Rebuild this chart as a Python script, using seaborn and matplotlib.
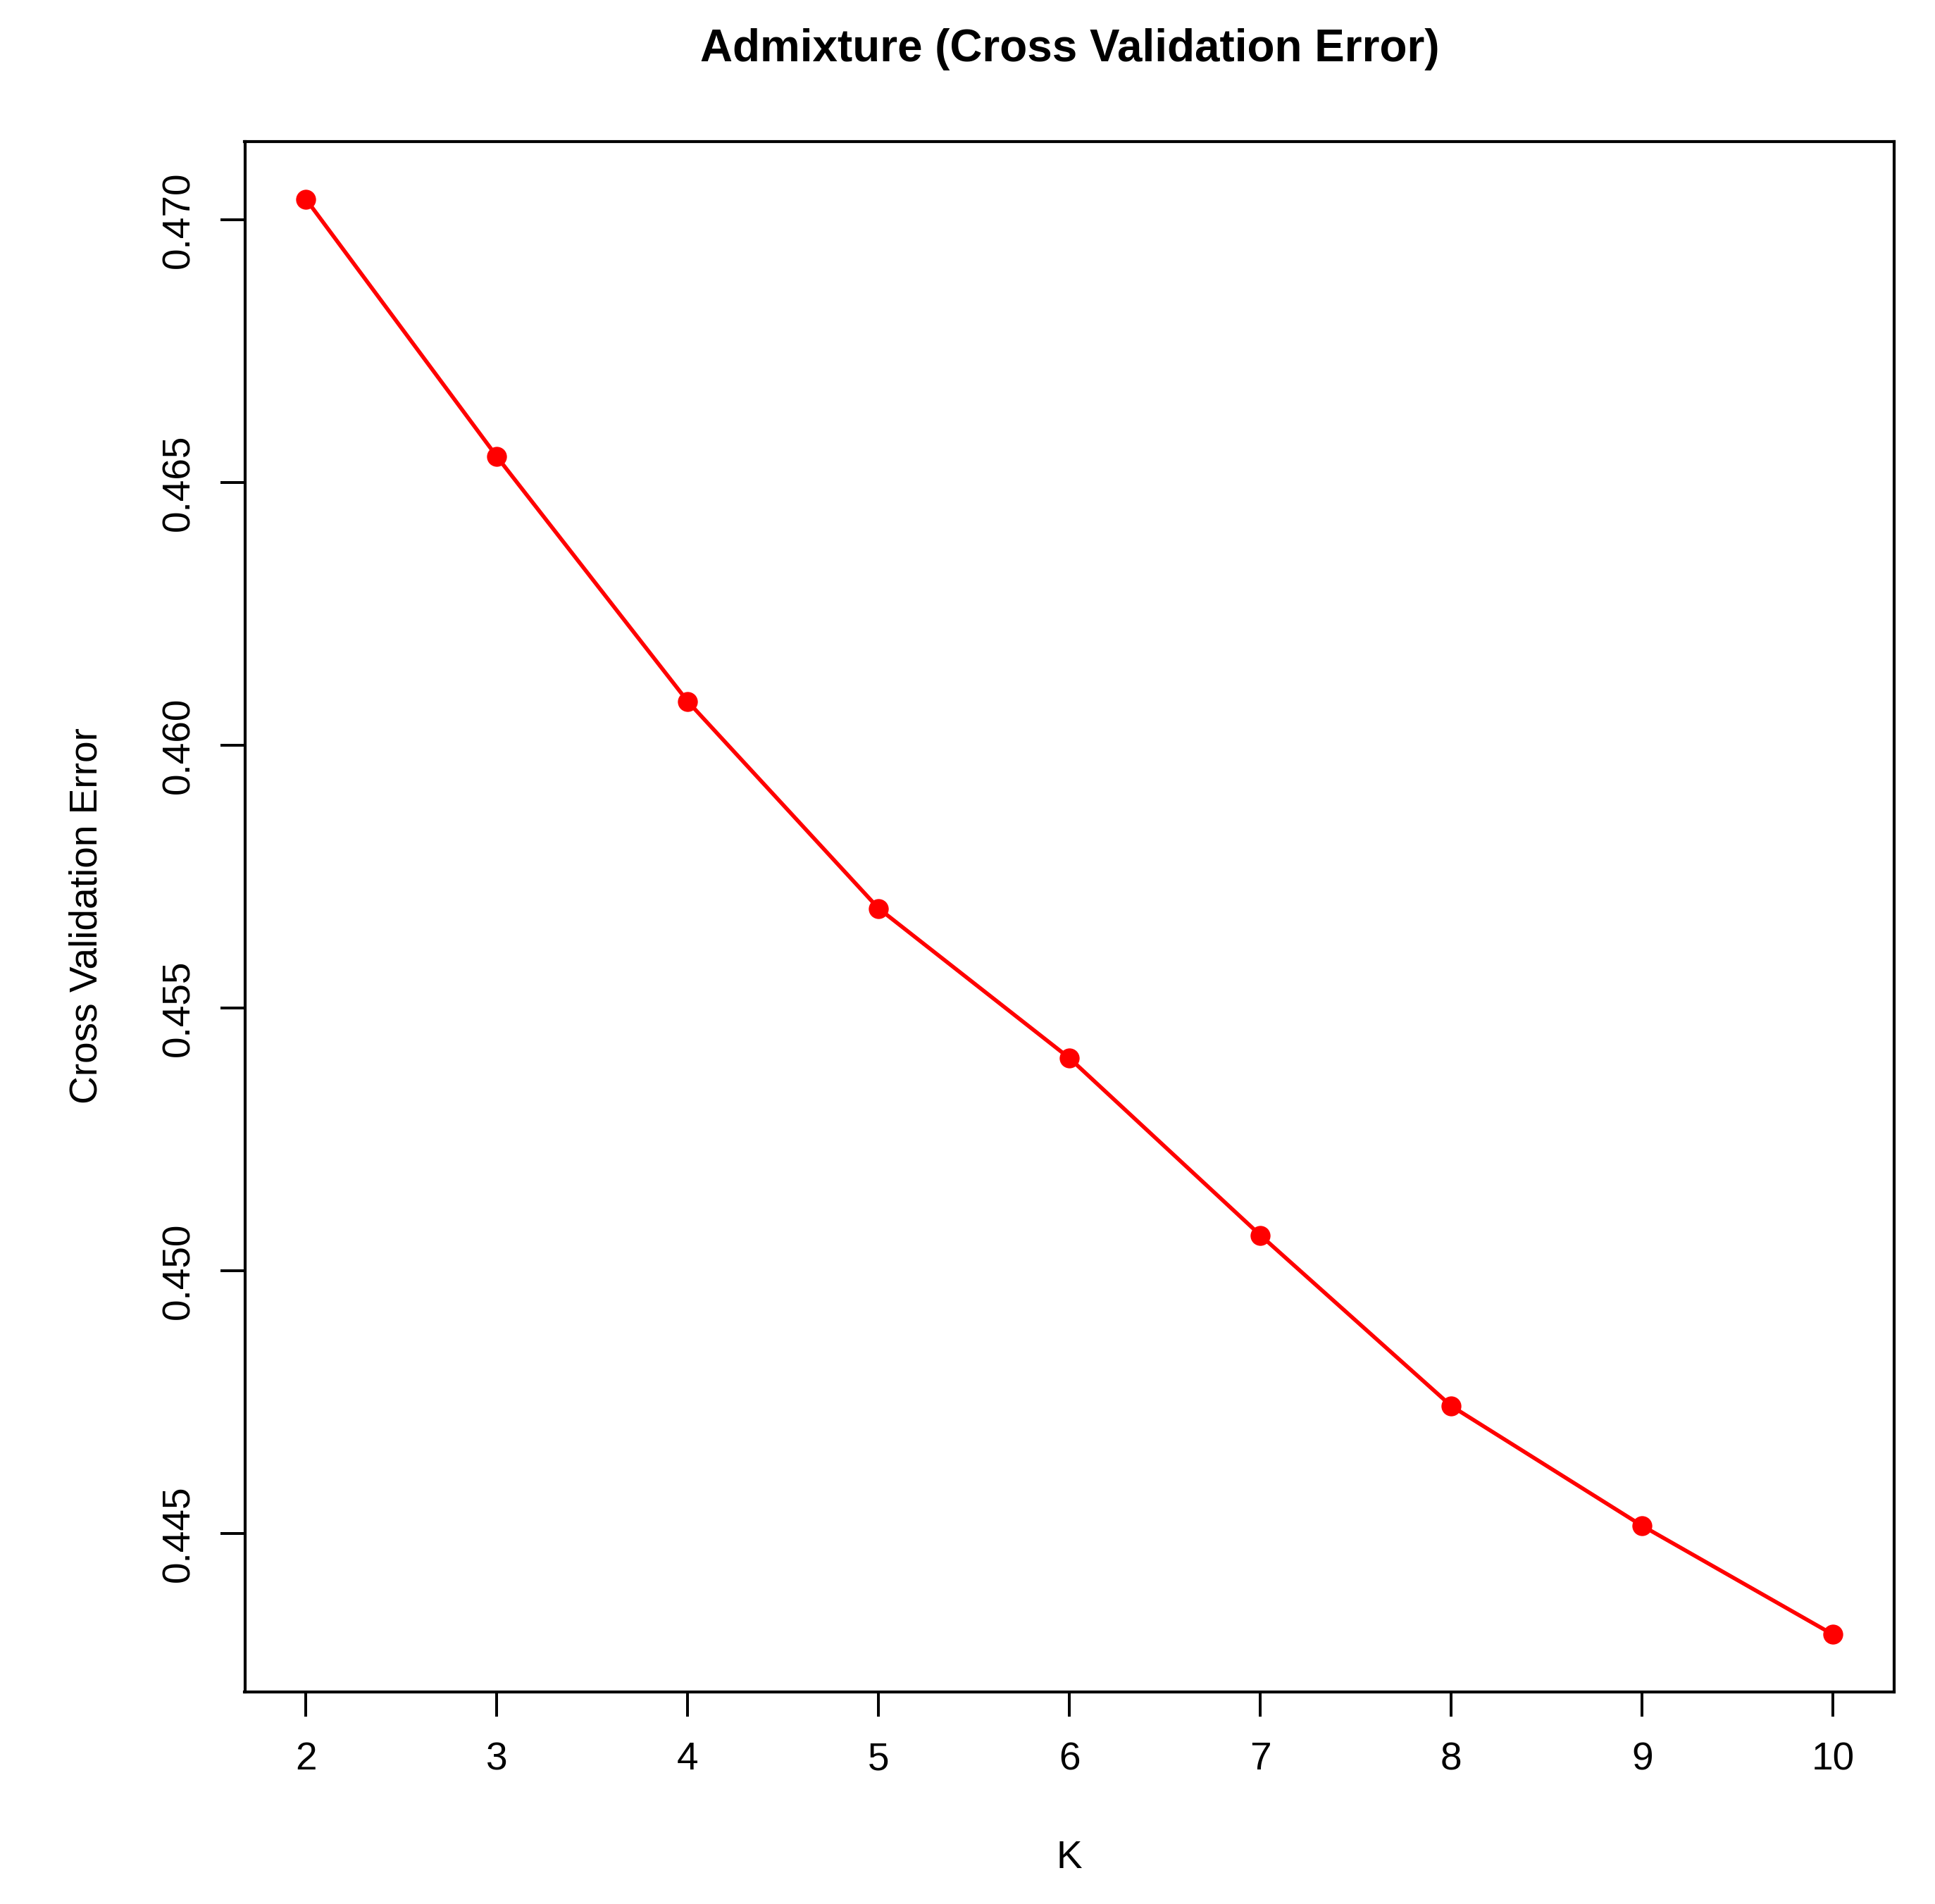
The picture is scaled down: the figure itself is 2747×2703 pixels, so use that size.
import matplotlib
matplotlib.use("Agg")
import matplotlib.pyplot as plt
import seaborn as sns
import pandas as pd

K = [2, 3, 4, 5, 6, 7, 8, 9, 10]
cv_error = [0.47040, 0.46550, 0.46084, 0.45690, 0.45405, 0.45068, 0.44743, 0.44515, 0.44308]
x_ticks = [2, 3, 4, 5, 6, 7, 8, 9, 10]
y_ticks = [0.445, 0.450, 0.455, 0.460, 0.465, 0.470]
y_tick_labels = ["0.445", "0.450", "0.455", "0.460", "0.465", "0.470"]

sns.set_style("white")
plt.rcParams["font.family"] = ["Liberation Sans", "DejaVu Sans"]

W, H = 2747, 2703
DPI = 300
L, R, T, B = 347.5, 2689, 201, 2402
fig = plt.figure(figsize=(W / DPI, H / DPI), dpi=DPI)
ax = fig.add_axes([L / W, 1 - B / H, (R - L) / W, (B - T) / H])

df = pd.DataFrame({"K": K, "err": cv_error})
sns.lineplot(data=df, x="K", y="err", ax=ax, color="red", marker="o",
             markersize=6.8, markeredgecolor="red", markeredgewidth=0,
             linewidth=1.35)

xr = max(K) - min(K)
ax.set_xlim(min(K) - 0.04 * xr, max(K) + 0.04 * xr)
yr = max(cv_error) - min(cv_error)
ax.set_ylim(min(cv_error) - 0.04 * yr, max(cv_error) + 0.04 * yr)

ax.set_xticks(x_ticks)
ax.set_xticklabels([str(v) for v in x_ticks])
ax.set_yticks(y_ticks)
ax.set_yticklabels(y_tick_labels, rotation=90, va="center")

ax.tick_params(axis="both", direction="out", length=8.4, width=0.95,
               color="black", labelsize=13.2, labelcolor="black",
               left=True, bottom=True)
ax.tick_params(axis="x", pad=8.5)
ax.tick_params(axis="y", pad=7.6)

for s in ax.spines.values():
    s.set_visible(True)
    s.set_color("black")
    s.set_linewidth(1.0)

ax.set_xlabel("")
ax.set_ylabel("")
cx = (L + R) / 2 / W
fig.text(cx, 1 - 2652 / H, "K", ha="center", va="baseline",
         fontsize=13.2, color="black")
fig.text(137.3 / W, 1 - 1300 / H, "Cross Validation Error", ha="center",
         va="baseline", rotation=90, rotation_mode="anchor",
         fontsize=13.2, color="black")
fig.text(cx, 1 - 87.3 / H, "Admixture (Cross Validation Error)",
         ha="center", va="baseline", fontsize=15.3, fontweight="bold",
         color="black")

fig.savefig("out.png", dpi=DPI, facecolor="white")
